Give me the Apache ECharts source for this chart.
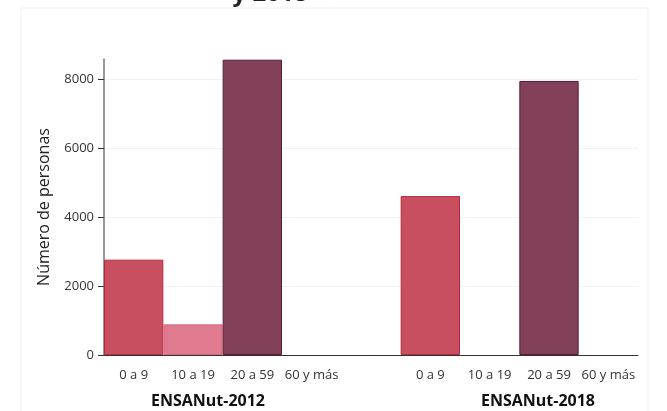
<!DOCTYPE html>
<html><head><meta charset="utf-8">
<script src="https://cdn.jsdelivr.net/npm/echarts@6/dist/echarts.min.js"></script>
<style>html,body{margin:0;padding:0;background:#fff}#c{width:667px;height:411px}</style>
</head><body><div id="c"></div>
<script>
const categories = ['0 a 9','10 a 19','20 a 59','60 y más','','0 a 9','10 a 19','20 a 59','60 y más'];
const values = [2770, 890, 8580, 0, null, 4616, 0, 7962, 0];
const ageGroup = [0,1,2,3,-1,0,1,2,3];
const groupLabels = ['ENSANut-2012','ENSANut-2018'];
const yTicks = [0,2000,4000,6000,8000];
const fills = ['#C84F5F','#E07A8F','#82405A','#82405A'];
const borders = ['#B8293F','#D9697F','#5C1A38','#5C1A38'];
const FONT = 'Open Sans';
const chart = echarts.init(document.getElementById('c'));
chart.setOption({
  animation:false,
  title:{text:'y 2018', left:265, textAlign:'center', top:-23, textStyle:{fontFamily:FONT,fontWeight:'bold',fontSize:24,color:'#222'}},
  graphic:[
    {type:'rect', shape:{x:21,y:8,width:627,height:420}, style:{fill:'none',stroke:'#f0f0f0',lineWidth:1}, z:-1},
    {type:'text', x:208, y:401, style:{text:groupLabels[0], font:'bold 16px "'+FONT+'"', fill:'#111', align:'center', verticalAlign:'middle'}},
    {type:'text', x:538, y:401, style:{text:groupLabels[1], font:'bold 16px "'+FONT+'"', fill:'#111', align:'center', verticalAlign:'middle'}}
  ],
  grid:{left:104, right:29, top:59, bottom:56},
  xAxis:{type:'category', data:categories,
    axisLine:{lineStyle:{color:'#333',width:1}},
    axisTick:{alignWithLabel:true, interval:(i)=>i!==4, length:5, lineStyle:{color:'#333'}},
    axisLabel:{interval:0, color:'#333', fontFamily:FONT, fontSize:13, margin:14}
  },
  yAxis:{type:'value', min:0, max:8600,
    name:'Número de personas', nameLocation:'middle', nameGap:52,
    nameTextStyle:{fontFamily:FONT, fontSize:16, color:'#222'},
    axisLine:{show:true, lineStyle:{color:'#777',width:1.5}},
    axisTick:{show:true, length:6, customValues:yTicks, lineStyle:{color:'#333'}},
    axisLabel:{customValues:yTicks, color:'#333', fontFamily:FONT, fontSize:13, margin:10, formatter:(v)=>String(v)},
    splitLine:{lineStyle:{color:'#EEF3F6'}}
  },
  series:[{type:'bar', barWidth:'100%', barCategoryGap:0,
    data: values.map((v,i)=>({value:v, itemStyle:{color:fills[Math.max(ageGroup[i],0)], borderColor:borders[Math.max(ageGroup[i],0)], borderWidth:v?1:0}}))
  }]
});
</script></body></html>
